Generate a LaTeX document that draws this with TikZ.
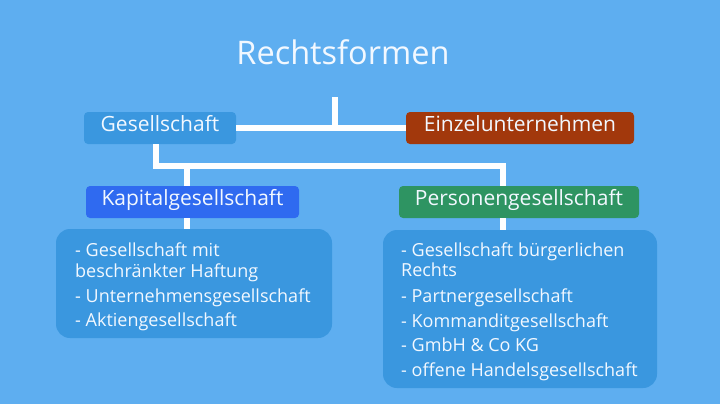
\documentclass[tikz,border=0pt]{standalone}
\usepackage{fontspec}
\setmainfont{Open Sans}
\usetikzlibrary{positioning}

\definecolor{bgblue}{HTML}{5EAEF0}
\definecolor{boxblue}{HTML}{3A97DF}
\definecolor{rust}{HTML}{A2380C}
\definecolor{royal}{HTML}{2F6AF0}
\definecolor{leaf}{HTML}{2E9462}
\definecolor{paper}{HTML}{F2F8FF}

\tikzset{
  formbox/.style={rectangle, rounded corners=4pt, text=paper, inner sep=0pt,
    minimum height=32pt, font=\fontsize{21}{25}\selectfont, text height=0.72em, text depth=0pt},
  listbox/.style={rectangle, rounded corners=14pt, fill=boxblue, inner sep=0pt},
  listitem/.style={anchor=base west, inner sep=0pt, text=paper, font=\fontsize{18}{22}\selectfont},
  link/.style={draw=white, line width=6.5pt}
}

\begin{document}
\begin{tikzpicture}[x=1pt, y=-1pt]
    \fill[bgblue] (0,0) rectangle (720,404);
    \useasboundingbox (0,0) rectangle (720,404);

    \node[anchor=base, text=paper, font=\fontsize{32.5}{38}\selectfont] (title) at (343,65) {Rechtsformen};

    \node[formbox, fill=boxblue, minimum width=152pt] (ges) at (160,128) {Gesellschaft};
    \node[formbox, fill=rust, minimum width=228pt] (einzel) at (520,128) {Einzelunternehmen};
    \node[formbox, fill=royal, minimum width=213pt] (kap) at (192.5,202) {Kapitalgesellschaft};
    \node[formbox, fill=leaf, minimum width=240pt] (pers) at (519,202) {Personengesellschaft};

    \node[listbox, minimum width=276pt, minimum height=109pt] (kaplist) at (194,283.5) {};
    \node[listbox, minimum width=274pt, minimum height=158pt] (perslist) at (520,309) {};

    \coordinate (stem) at (335,97);
    \coordinate (junction) at (503,166);

    \draw[link] (ges.east) -- (einzel.west);
    \draw[link] (stem) -- (stem |- ges.east);
    \draw[link] ([xshift=-4pt]ges.south) |- (junction) -- (junction |- pers.north);
    \draw[link] ([xshift=-5.5pt]kap.north) -- ([xshift=-5.5pt]kap.north |- junction);
    \draw[link] ([xshift=-5.5pt]kap.south) -- ([xshift=-5.5pt]kap.south |- kaplist.north);
    \draw[link] (junction |- pers.south) -- (junction |- perslist.north);

    % Kapitalgesellschaften
    \node[listitem] (k1) at (75,256) {- Gesellschaft mit};
    \node[listitem] (k2) at (75,277) {beschränkter Haftung};
    \node[listitem] (k3) at (75,302) {- Unternehmensgesellschaft};
    \node[listitem] (k4) at (75,326) {- Aktiengesellschaft};

    % Personengesellschaften
    \node[listitem] (p1) at (401,256) {- Gesellschaft bürgerlichen};
    \node[listitem] (p2) at (401,276) {Rechts};
    \node[listitem] (p3) at (401,302) {- Partnergesellschaft};
    \node[listitem] (p4) at (401,327) {- Kommanditgesellschaft};
    \node[listitem] (p5) at (401,351) {- GmbH \& Co KG};
    \node[listitem] (p6) at (401,376) {- offene Handelsgesellschaft};
\end{tikzpicture}
\end{document}
